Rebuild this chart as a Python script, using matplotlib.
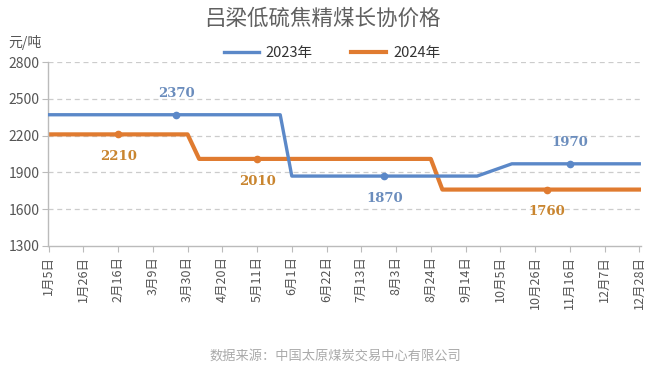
import matplotlib
matplotlib.use("Agg")
import matplotlib.pyplot as plt
import pandas as pd
import numpy as np

plt.rcParams['font.family'] = ['Noto Sans CJK SC', 'DejaVu Sans']

# Weekly categories (52 weeks from Jan 5)
dates = pd.date_range('2023-01-05', periods=52, freq='7D')
categories = [f"{d.month}月{d.day}日" for d in dates]

# Prices (元/吨); None = no data point for that week
price_2023 = [2370, 2370, 2370, 2370, 2370, 2370, 2370, 2370, 2370, 2370,
              2370, 2370, 2370, 2370, 2370, 2370, 2370, 2370, 2370, 2370,
              2370, 1870, 1870, 1870, 1870, 1870, 1870, 1870, 1870, 1870,
              1870, 1870, 1870, 1870, 1870, 1870, 1870, 1870, None, None,
              1970, 1970, 1970, 1970, 1970, 1970, 1970, 1970, 1970, 1970,
              1970, 1970]
price_2024 = [2210, 2210, 2210, 2210, 2210, 2210, 2210, 2210, 2210, 2210,
              2210, 2210, 2210, 2010, 2010, 2010, 2010, 2010, 2010, 2010,
              2010, 2010, 2010, 2010, 2010, 2010, 2010, 2010, 2010, 2010,
              2010, 2010, 2010, 2010, 1760, 1760, 1760, 1760, 1760, 1760,
              1760, 1760, 1760, 1760, 1760, 1760, 1760, 1760, 1760, 1760,
              1760, 1760]

# Labelled points: (week index, value, above?)
labels_2023 = [(11, 2370, True), (29, 1870, False), (45, 1970, True)]
labels_2024 = [(6, 2210, False), (18, 2010, False), (43, 1760, False)]

series_names = ['2023年', '2024年']
yticks = [1300, 1600, 1900, 2200, 2500, 2800]

blue = '#5b88c8'
orange = '#e07b30'
blue_lbl = '#6b8dbd'
orange_lbl = '#c9852f'

fig = plt.figure(figsize=(6.52, 3.72), dpi=100)
ax = fig.add_axes([48/652, 1-246/372, (641-48)/652, (246-62)/372])

s23 = pd.Series(price_2023, dtype=float).dropna()
s24 = pd.Series(price_2024, dtype=float).dropna()

ax.plot(s23.index, s23.values, color=blue, lw=2.4, label=series_names[0], zorder=3,
        solid_joinstyle='round')
ax.plot(s24.index, s24.values, color=orange, lw=3.0, label=series_names[1], zorder=2,
        solid_joinstyle='round')

for (i, v, above) in labels_2023:
    ax.plot(i, v, 'o', color=blue, ms=4.5, zorder=4)
    ax.annotate(str(v), (i, v), xytext=(0, 15 if above else -16), textcoords='offset points',
                ha='center', va='center', color=blue_lbl, fontsize=9.5, fontweight='bold',
                family=['DejaVu Serif'])
for (i, v, above) in labels_2024:
    ax.plot(i, v, 'o', color=orange, ms=4.5, zorder=4)
    ax.annotate(str(v), (i, v), xytext=(0, 15 if above else -16), textcoords='offset points',
                ha='center', va='center', color=orange_lbl, fontsize=9.5, fontweight='bold',
                family=['DejaVu Serif'])

ax.set_ylim(1300, 2800)
ax.set_xlim(-0.05, 51.15)
ax.set_yticks(yticks)
tick_idx = list(range(0, 52, 3))
ax.set_xticks(tick_idx)
ax.set_xticklabels([categories[i] for i in tick_idx], rotation=90, fontsize=9, color='#555555')
ax.tick_params(axis='y', labelsize=10, labelcolor='#555555', length=4, color='#bbbbbb', pad=2)
ax.tick_params(axis='x', length=4, color='#bbbbbb', pad=3)

for y in yticks[1:]:
    ax.axhline(y, color='#cccccc', lw=0.9, ls=(0, (4, 3)), zorder=1)

for side in ['top', 'right']:
    ax.spines[side].set_visible(False)
for side in ['left', 'bottom']:
    ax.spines[side].set_color('#bbbbbb')
    ax.spines[side].set_linewidth(1.0)

fig.text(0.494, 0.95, '吕梁低硫焦精煤长协价格', ha='center', va='center', fontsize=15.5,
         color='#606060')
fig.text(8/652, 1-42/372, '元/吨', ha='left', va='center', fontsize=10, color='#555555')
fig.text(335/652, 1-356/372, '数据来源：中国太原煤炭交易中心有限公司', ha='center', va='center',
         fontsize=9.5, color='#aaaaaa')

leg = ax.legend(loc='center', bbox_to_anchor=(332/652, 1-53/372), bbox_transform=fig.transFigure,
                ncol=2, frameon=False, fontsize=10.5, handlelength=2.4, columnspacing=2.6,
                handletextpad=0.5)
for t in leg.get_texts():
    t.set_color('#333333')

fig.savefig('out.png', dpi=100)
